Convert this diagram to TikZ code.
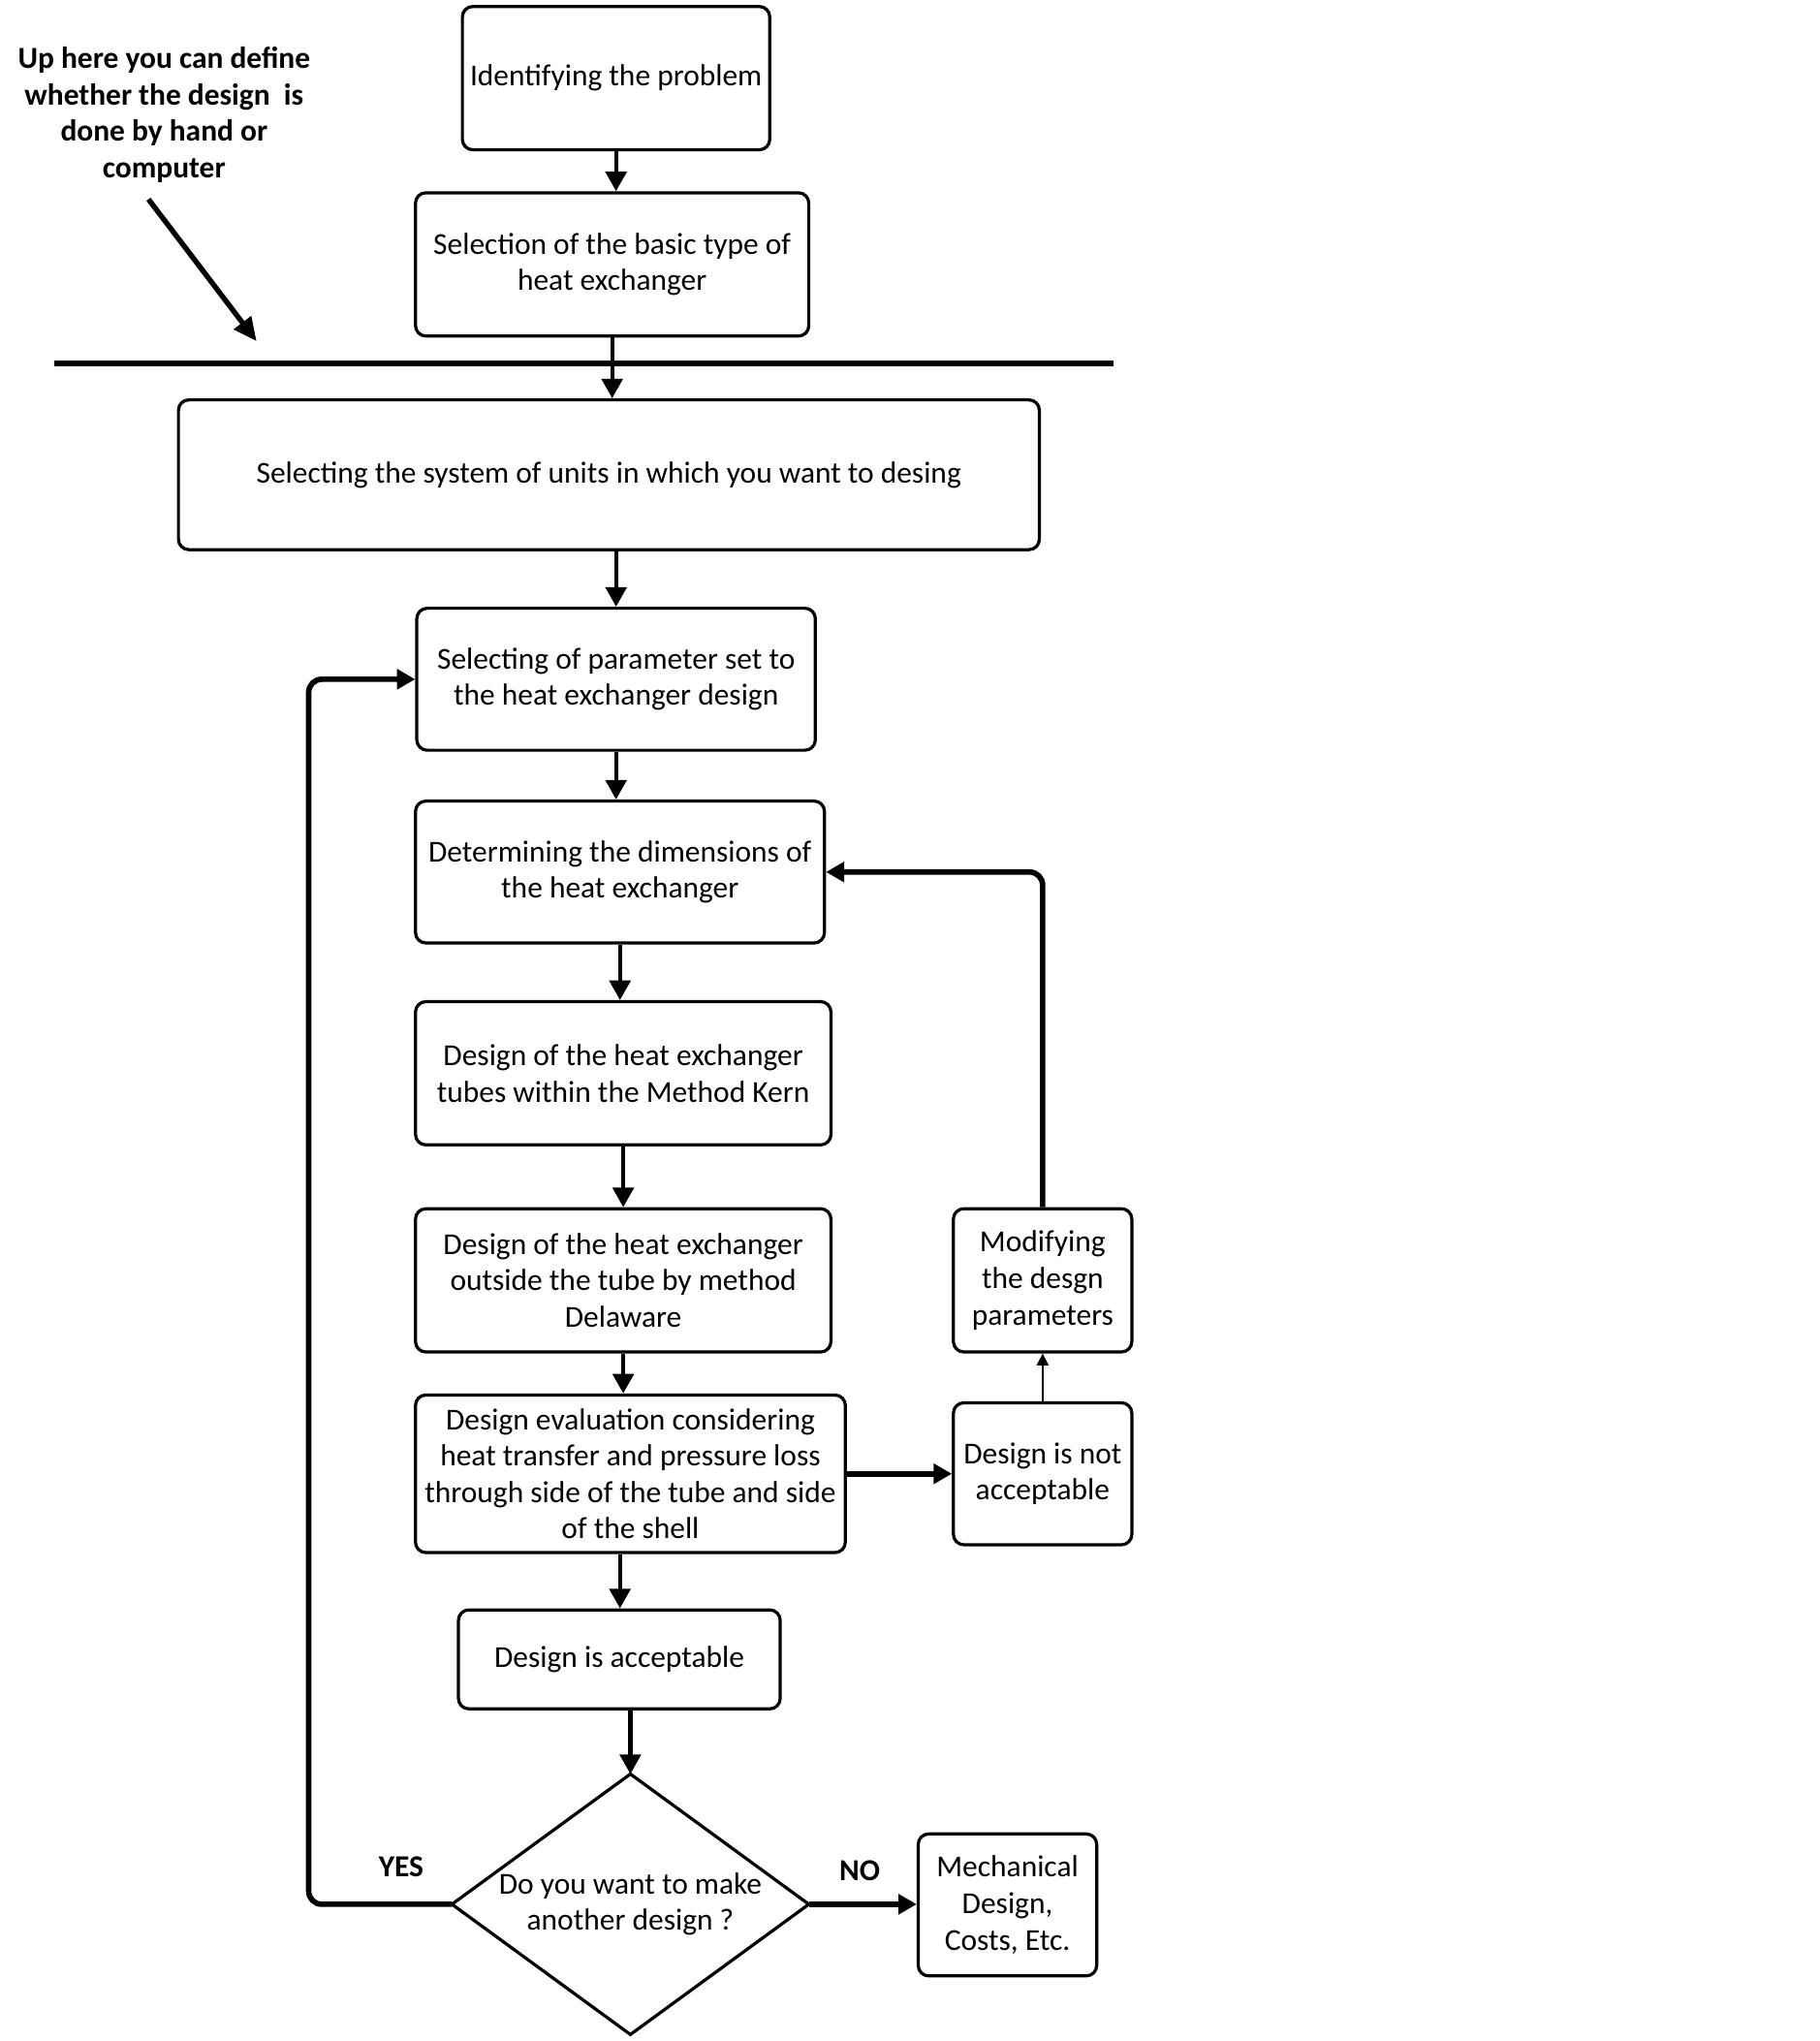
\documentclass[tikz,border=0pt]{standalone}
\usepackage{fontspec}
\setmainfont{Carlito}
\usetikzlibrary{arrows.meta}
\begin{document}
\begin{tikzpicture}[x=0.5pt,y=-0.5pt,
  box/.style={draw, line width=1.2pt, rounded corners=4pt, align=center, inner sep=2pt,
    font=\fontsize{11.7}{14}\selectfont},
  lbl/.style={align=center, font=\fontsize{11.7}{14}\selectfont\bfseries},
  arr/.style={line width=1.5pt, -{Triangle[length=7.5pt,width=8pt]}},
  arrthick/.style={line width=2.1pt, -{Triangle[length=7pt,width=7.5pt]}},
  arrthin/.style={line width=0.7pt, -{Triangle[length=4.5pt,width=4.5pt]}},
  loop/.style={line width=2.1pt, rounded corners=5pt, -{Triangle[length=7pt,width=7.5pt]}}]
\useasboundingbox (0,0) rectangle (1397,1567);

% annotation
\node[lbl] (note) at (126,88) {Up here you can define\\whether the design\ \ is\\done by hand or\\computer};
\coordinate (na) at (114,153);
\coordinate (nb) at (197,262);
\draw[line width=2pt, -{Triangle[length=9pt,width=8pt]}] (na) -- (nb);
\coordinate (hl) at (42,279);
\coordinate (hr) at (855,279);
\draw[line width=2pt] (hl) -- (hr);

% boxes
\node[box, minimum width=118pt, minimum height=55pt] (b1) at (473,60) {Identifying the problem};
\node[box, minimum width=151pt, minimum height=55pt] (b2) at (470,203) {Selection of the basic type of\\heat exchanger};
\node[box, minimum width=330.5pt, minimum height=57.5pt] (b3) at (467.5,364.5) {Selecting the system of units in which you want to desing};
\node[box, minimum width=153pt, minimum height=54.5pt] (b4) at (473,521.5) {Selecting of parameter set to\\the heat exchanger design};
\node[box, minimum width=157pt, minimum height=54.5pt] (b5) at (476,669.5) {Determining the dimensions of\\the heat exchanger};
\node[box, minimum width=159.5pt, minimum height=55pt] (b6) at (478.5,824) {Design of the heat exchanger\\tubes within the Method Kern};
\node[box, minimum width=159.5pt, minimum height=55pt] (b7) at (478.5,983) {Design of the heat exchanger\\outside the tube by method\\Delaware};
\node[box, minimum width=68.5pt, minimum height=55pt] (b8) at (800.5,983) {Modifying\\the desgn\\parameters};
\node[box, minimum width=165pt, minimum height=60.5pt] (b9) at (484,1131.5) {Design evaluation considering\\heat transfer and pressure loss\\through side of the tube and side\\of the shell};
\node[box, minimum width=68.5pt, minimum height=54.5pt] (b10) at (800.5,1131.5) {Design is not\\acceptable};
\node[box, minimum width=123.5pt, minimum height=38pt] (b11) at (475.5,1274) {Design is acceptable};
\node[box, minimum width=68.5pt, minimum height=54.5pt] (b12) at (773.5,1462.5) {Mechanical\\Design,\\Costs, Etc.};

% decision diamond
\coordinate (dT) at (484,1362);
\coordinate (dR) at (621,1462);
\coordinate (dB) at (484,1562);
\coordinate (dL) at (347,1462);
\draw[line width=1.2pt, line join=miter] (dT) -- (dR) -- (dB) -- (dL) -- cycle;
\node[align=center, font=\fontsize{11.7}{14}\selectfont] (dq) at (484,1462) {Do you want to make\\another design ?};

\node[lbl] (yes) at (308,1433) {YES};
\node[lbl] (no) at (660,1436) {NO};

% connectors
\draw[arr] (b1.south) -- (b1.south |- b2.north);
\draw[arr] (b2.south) -- (b2.south |- b3.north);
\draw[arr] (b3.south -| b4.north) -- (b4.north);
\draw[arr] (b4.south) -- (b4.south |- b5.north);
\draw[arr] (b5.south) -- (b5.south |- b6.north);
\draw[arr] (b6.south) -- (b6.south |- b7.north);
\draw[arr] (b7.south) -- (b7.south |- b9.north);
\draw[arr] (b9.south -| b5.south) -- (b5.south |- b11.north);
\draw[arr] (b11.south -| dT) -- (dT);
\draw[arrthick] (b9.east) -- (b9.east -| b10.west);
\draw[arrthin] (b10.north) -- (b8.south);
\draw[loop] (b8.north) -- (b8.north |- b5.east) -- (b5.east);
\draw[loop] (dL) -- (237,1462) -- (237,521.5) -- (b4.west);
\draw[arrthick] (dR) -- (dR -| b12.west);
\end{tikzpicture}
\end{document}
